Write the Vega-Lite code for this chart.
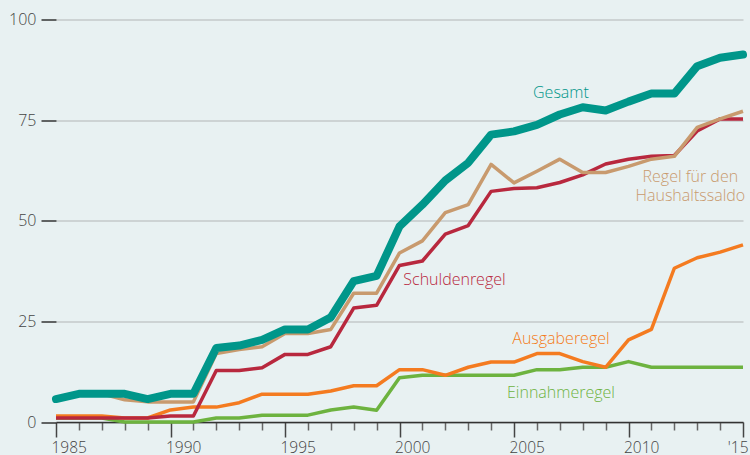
{
  "$schema": "https://vega.github.io/schema/vega-lite/v6.json",
  "width": 687,
  "height": 402.5,
  "autosize": "none",
  "padding": {"left": 56, "top": 19.5, "right": 7, "bottom": 33},
  "background": "#e8f1f2",
  "config": {"view": {"stroke": null}, "font": "Open Sans", "axis": {"labelFont": "Open Sans", "labelFontWeight": 300}},
  "datasets": {
    "rules": [
      {"year": 1985, "series": "Gesamt", "value": 5.7},
      {"year": 1986, "series": "Gesamt", "value": 7},
      {"year": 1987, "series": "Gesamt", "value": 7},
      {"year": 1988, "series": "Gesamt", "value": 7},
      {"year": 1989, "series": "Gesamt", "value": 5.7},
      {"year": 1990, "series": "Gesamt", "value": 7},
      {"year": 1991, "series": "Gesamt", "value": 7},
      {"year": 1992, "series": "Gesamt", "value": 18.4},
      {"year": 1993, "series": "Gesamt", "value": 19},
      {"year": 1994, "series": "Gesamt", "value": 20.4},
      {"year": 1995, "series": "Gesamt", "value": 23},
      {"year": 1996, "series": "Gesamt", "value": 23},
      {"year": 1997, "series": "Gesamt", "value": 26},
      {"year": 1998, "series": "Gesamt", "value": 35},
      {"year": 1999, "series": "Gesamt", "value": 36.3},
      {"year": 2000, "series": "Gesamt", "value": 48.6},
      {"year": 2001, "series": "Gesamt", "value": 54},
      {"year": 2002, "series": "Gesamt", "value": 60},
      {"year": 2003, "series": "Gesamt", "value": 64.4},
      {"year": 2004, "series": "Gesamt", "value": 71.4},
      {"year": 2005, "series": "Gesamt", "value": 72.2},
      {"year": 2006, "series": "Gesamt", "value": 73.8},
      {"year": 2007, "series": "Gesamt", "value": 76.4},
      {"year": 2008, "series": "Gesamt", "value": 78.2},
      {"year": 2009, "series": "Gesamt", "value": 77.4},
      {"year": 2010, "series": "Gesamt", "value": 79.6},
      {"year": 2011, "series": "Gesamt", "value": 81.6},
      {"year": 2012, "series": "Gesamt", "value": 81.6},
      {"year": 2013, "series": "Gesamt", "value": 88.4},
      {"year": 2014, "series": "Gesamt", "value": 90.5},
      {"year": 2015, "series": "Gesamt", "value": 91.3},
      {"year": 1985, "series": "Haushaltssaldo", "value": 5.7},
      {"year": 1986, "series": "Haushaltssaldo", "value": 7},
      {"year": 1987, "series": "Haushaltssaldo", "value": 7},
      {"year": 1988, "series": "Haushaltssaldo", "value": 5.5},
      {"year": 1989, "series": "Haushaltssaldo", "value": 5},
      {"year": 1990, "series": "Haushaltssaldo", "value": 5},
      {"year": 1991, "series": "Haushaltssaldo", "value": 5},
      {"year": 1992, "series": "Haushaltssaldo", "value": 17},
      {"year": 1993, "series": "Haushaltssaldo", "value": 18},
      {"year": 1994, "series": "Haushaltssaldo", "value": 18.7},
      {"year": 1995, "series": "Haushaltssaldo", "value": 22},
      {"year": 1996, "series": "Haushaltssaldo", "value": 22},
      {"year": 1997, "series": "Haushaltssaldo", "value": 23},
      {"year": 1998, "series": "Haushaltssaldo", "value": 32},
      {"year": 1999, "series": "Haushaltssaldo", "value": 32},
      {"year": 2000, "series": "Haushaltssaldo", "value": 42},
      {"year": 2001, "series": "Haushaltssaldo", "value": 45},
      {"year": 2002, "series": "Haushaltssaldo", "value": 52},
      {"year": 2003, "series": "Haushaltssaldo", "value": 54},
      {"year": 2004, "series": "Haushaltssaldo", "value": 64},
      {"year": 2005, "series": "Haushaltssaldo", "value": 59.4},
      {"year": 2006, "series": "Haushaltssaldo", "value": 62.3},
      {"year": 2007, "series": "Haushaltssaldo", "value": 65.3},
      {"year": 2008, "series": "Haushaltssaldo", "value": 62},
      {"year": 2009, "series": "Haushaltssaldo", "value": 62},
      {"year": 2010, "series": "Haushaltssaldo", "value": 63.5},
      {"year": 2011, "series": "Haushaltssaldo", "value": 65.3},
      {"year": 2012, "series": "Haushaltssaldo", "value": 66},
      {"year": 2013, "series": "Haushaltssaldo", "value": 73.2},
      {"year": 2014, "series": "Haushaltssaldo", "value": 75.3},
      {"year": 2015, "series": "Haushaltssaldo", "value": 77.2},
      {"year": 1985, "series": "Schuldenregel", "value": 1},
      {"year": 1986, "series": "Schuldenregel", "value": 1},
      {"year": 1987, "series": "Schuldenregel", "value": 1},
      {"year": 1988, "series": "Schuldenregel", "value": 1},
      {"year": 1989, "series": "Schuldenregel", "value": 1},
      {"year": 1990, "series": "Schuldenregel", "value": 1.5},
      {"year": 1991, "series": "Schuldenregel", "value": 1.5},
      {"year": 1992, "series": "Schuldenregel", "value": 12.8},
      {"year": 1993, "series": "Schuldenregel", "value": 12.8},
      {"year": 1994, "series": "Schuldenregel", "value": 13.5},
      {"year": 1995, "series": "Schuldenregel", "value": 16.8},
      {"year": 1996, "series": "Schuldenregel", "value": 16.8},
      {"year": 1997, "series": "Schuldenregel", "value": 18.7},
      {"year": 1998, "series": "Schuldenregel", "value": 28.3},
      {"year": 1999, "series": "Schuldenregel", "value": 29},
      {"year": 2000, "series": "Schuldenregel", "value": 38.9},
      {"year": 2001, "series": "Schuldenregel", "value": 40},
      {"year": 2002, "series": "Schuldenregel", "value": 46.7},
      {"year": 2003, "series": "Schuldenregel", "value": 48.8},
      {"year": 2004, "series": "Schuldenregel", "value": 57.3},
      {"year": 2005, "series": "Schuldenregel", "value": 58},
      {"year": 2006, "series": "Schuldenregel", "value": 58.2},
      {"year": 2007, "series": "Schuldenregel", "value": 59.5},
      {"year": 2008, "series": "Schuldenregel", "value": 61.4},
      {"year": 2009, "series": "Schuldenregel", "value": 64.1},
      {"year": 2010, "series": "Schuldenregel", "value": 65.3},
      {"year": 2011, "series": "Schuldenregel", "value": 66},
      {"year": 2012, "series": "Schuldenregel", "value": 66.2},
      {"year": 2013, "series": "Schuldenregel", "value": 72.3},
      {"year": 2014, "series": "Schuldenregel", "value": 75.3},
      {"year": 2015, "series": "Schuldenregel", "value": 75.3},
      {"year": 1985, "series": "Ausgaberegel", "value": 1.5},
      {"year": 1986, "series": "Ausgaberegel", "value": 1.5},
      {"year": 1987, "series": "Ausgaberegel", "value": 1.5},
      {"year": 1988, "series": "Ausgaberegel", "value": 1},
      {"year": 1989, "series": "Ausgaberegel", "value": 1},
      {"year": 1990, "series": "Ausgaberegel", "value": 3},
      {"year": 1991, "series": "Ausgaberegel", "value": 3.7},
      {"year": 1992, "series": "Ausgaberegel", "value": 3.7},
      {"year": 1993, "series": "Ausgaberegel", "value": 4.8},
      {"year": 1994, "series": "Ausgaberegel", "value": 6.9},
      {"year": 1995, "series": "Ausgaberegel", "value": 6.9},
      {"year": 1996, "series": "Ausgaberegel", "value": 6.9},
      {"year": 1997, "series": "Ausgaberegel", "value": 7.7},
      {"year": 1998, "series": "Ausgaberegel", "value": 9},
      {"year": 1999, "series": "Ausgaberegel", "value": 9},
      {"year": 2000, "series": "Ausgaberegel", "value": 13},
      {"year": 2001, "series": "Ausgaberegel", "value": 13},
      {"year": 2002, "series": "Ausgaberegel", "value": 11.6},
      {"year": 2003, "series": "Ausgaberegel", "value": 13.6},
      {"year": 2004, "series": "Ausgaberegel", "value": 14.9},
      {"year": 2005, "series": "Ausgaberegel", "value": 14.9},
      {"year": 2006, "series": "Ausgaberegel", "value": 17},
      {"year": 2007, "series": "Ausgaberegel", "value": 17},
      {"year": 2008, "series": "Ausgaberegel", "value": 15},
      {"year": 2009, "series": "Ausgaberegel", "value": 13.6},
      {"year": 2010, "series": "Ausgaberegel", "value": 20.4},
      {"year": 2011, "series": "Ausgaberegel", "value": 23},
      {"year": 2012, "series": "Ausgaberegel", "value": 38.2},
      {"year": 2013, "series": "Ausgaberegel", "value": 40.8},
      {"year": 2014, "series": "Ausgaberegel", "value": 42.2},
      {"year": 2015, "series": "Ausgaberegel", "value": 44},
      {"year": 1985, "series": "Einnahmeregel", "value": 1},
      {"year": 1986, "series": "Einnahmeregel", "value": 1},
      {"year": 1987, "series": "Einnahmeregel", "value": 1},
      {"year": 1988, "series": "Einnahmeregel", "value": 0},
      {"year": 1989, "series": "Einnahmeregel", "value": 0},
      {"year": 1990, "series": "Einnahmeregel", "value": 0},
      {"year": 1991, "series": "Einnahmeregel", "value": 0},
      {"year": 1992, "series": "Einnahmeregel", "value": 1},
      {"year": 1993, "series": "Einnahmeregel", "value": 1},
      {"year": 1994, "series": "Einnahmeregel", "value": 1.7},
      {"year": 1995, "series": "Einnahmeregel", "value": 1.7},
      {"year": 1996, "series": "Einnahmeregel", "value": 1.7},
      {"year": 1997, "series": "Einnahmeregel", "value": 3},
      {"year": 1998, "series": "Einnahmeregel", "value": 3.7},
      {"year": 1999, "series": "Einnahmeregel", "value": 2.9},
      {"year": 2000, "series": "Einnahmeregel", "value": 11},
      {"year": 2001, "series": "Einnahmeregel", "value": 11.6},
      {"year": 2002, "series": "Einnahmeregel", "value": 11.6},
      {"year": 2003, "series": "Einnahmeregel", "value": 11.6},
      {"year": 2004, "series": "Einnahmeregel", "value": 11.6},
      {"year": 2005, "series": "Einnahmeregel", "value": 11.6},
      {"year": 2006, "series": "Einnahmeregel", "value": 13},
      {"year": 2007, "series": "Einnahmeregel", "value": 13},
      {"year": 2008, "series": "Einnahmeregel", "value": 13.6},
      {"year": 2009, "series": "Einnahmeregel", "value": 13.6},
      {"year": 2010, "series": "Einnahmeregel", "value": 15},
      {"year": 2011, "series": "Einnahmeregel", "value": 13.6},
      {"year": 2012, "series": "Einnahmeregel", "value": 13.6},
      {"year": 2013, "series": "Einnahmeregel", "value": 13.6},
      {"year": 2014, "series": "Einnahmeregel", "value": 13.6},
      {"year": 2015, "series": "Einnahmeregel", "value": 13.6}
    ],
    "labels": [
      {"year": 2007.05, "value": 81.7, "series": "Gesamt", "label": "Gesamt"},
      {"year": 2012.7, "value": 60.9, "series": "Haushaltssaldo", "label": "Regel für den"},
      {"year": 2012.7, "value": 56.1, "series": "Haushaltssaldo", "label": "Haushaltssaldo"},
      {"year": 2002.4, "value": 35.3, "series": "Schuldenregel", "label": "Schuldenregel"},
      {"year": 2007.05, "value": 20.6, "series": "Ausgaberegel", "label": "Ausgaberegel"},
      {"year": 2007.05, "value": 7.2, "series": "Einnahmeregel", "label": "Einnahmeregel"}
    ]
  },
  "encoding": {
    "x": {
      "field": "year",
      "type": "quantitative",
      "scale": {"domain": [1985, 2015], "nice": false, "zero": false},
      "axis": {
        "title": null,
        "grid": false,
        "values": [1985, 1986, 1987, 1988, 1989, 1990, 1991, 1992, 1993, 1994, 1995, 1996, 1997, 1998, 1999, 2000, 2001, 2002, 2003, 2004, 2005, 2006, 2007, 2008, 2009, 2010, 2011, 2012, 2013, 2014, 2015],
        "labelExpr": "datum.value === 2015 ? \"'15\" : (datum.value % 5 === 0 ? '' + datum.value : '')",
        "labelFontSize": 15.5,
        "labelColor": "#444444",
        "labelBaseline": "alphabetic",
        "labelPadding": 15.7,
        "labelFlush": false,
        "labelOverlap": false,
        "labelAlign": {"condition": {"test": "datum.value === 2015", "value": "right"}, "value": "left"},
        "labelOffset": {"condition": {"test": "datum.value === 2015", "value": 5}, "value": -5},
        "tickSize": {"condition": {"test": "datum.value % 5 === 0", "value": 15}, "value": 8},
        "tickColor": {"condition": {"test": "datum.value % 5 === 0", "value": "#444444"}, "value": "#666666"},
        "tickWidth": 1.5,
        "domainColor": "#333333",
        "domainWidth": 1.5
      }
    },
    "y": {
      "field": "value",
      "type": "quantitative",
      "scale": {"domain": [0, 100], "nice": false},
      "axis": {
        "title": null,
        "domain": false,
        "values": [0, 25, 50, 75, 100],
        "tickSize": 15,
        "tickColor": "#333333",
        "tickWidth": 1.5,
        "labelPadding": 5,
        "labelFontSize": 16,
        "labelColor": "#444444",
        "gridColor": "#c4c9ca",
        "gridWidth": 1.5
      }
    },
    "color": {
      "field": "series",
      "type": "nominal",
      "scale": {
        "domain": ["Gesamt", "Haushaltssaldo", "Schuldenregel", "Ausgaberegel", "Einnahmeregel"],
        "range": ["#00968a", "#c89a6e", "#b8283e", "#f47b20", "#6db33f"]
      },
      "legend": null
    }
  },
  "layer": [
    {"data": {"name": "rules"}, "transform": [{"filter": "datum.series === 'Einnahmeregel'"}], "mark": {"type": "line", "strokeWidth": 3.5, "strokeJoin": "round"}},
    {"data": {"name": "rules"}, "transform": [{"filter": "datum.series === 'Ausgaberegel'"}], "mark": {"type": "line", "strokeWidth": 3.5, "strokeJoin": "round"}},
    {"data": {"name": "rules"}, "transform": [{"filter": "datum.series === 'Schuldenregel'"}], "mark": {"type": "line", "strokeWidth": 3.5, "strokeJoin": "round"}},
    {"data": {"name": "rules"}, "transform": [{"filter": "datum.series === 'Haushaltssaldo'"}], "mark": {"type": "line", "strokeWidth": 3.5, "strokeJoin": "round"}},
    {"data": {"name": "rules"}, "transform": [{"filter": "datum.series === 'Gesamt'"}], "mark": {"type": "line", "strokeWidth": 8, "strokeJoin": "round", "strokeCap": "round"}},
    {
      "data": {"name": "labels"},
      "mark": {"type": "text", "fontSize": 16, "fontWeight": 300, "font": "Open Sans", "align": "center", "baseline": "middle"},
      "encoding": {"text": {"field": "label", "type": "nominal"}}
    }
  ]
}
